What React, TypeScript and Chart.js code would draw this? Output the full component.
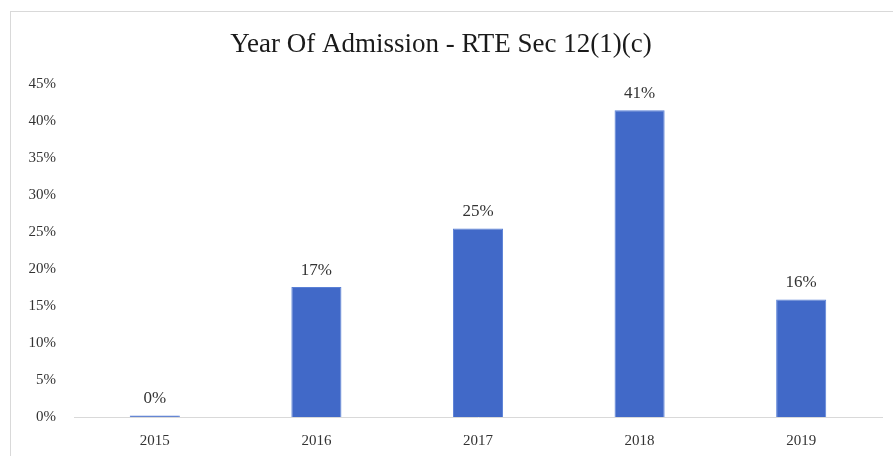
import React, { useEffect, useRef } from "react";
import { Chart, registerables } from "chart.js";

Chart.register(...registerables);

const categories = ["2015", "2016", "2017", "2018", "2019"];
const shares = [0.2, 17.6, 25.5, 41.5, 15.9];
const shareLabels = ["0%", "17%", "25%", "41%", "16%"];
const yTickMax = 45;
const yTickStep = 5;
const titleText = "Year Of Admission - RTE Sec 12(1)(c)";

const FONT = "'Liberation Serif', 'DejaVu Serif', serif";

const dataLabelPlugin = {
  id: "dataLabels",
  afterDatasetsDraw(chart: any) {
    const ctx = chart.ctx;
    const meta = chart.getDatasetMeta(0);
    ctx.save();
    ctx.font = `17px ${FONT}`;
    ctx.fillStyle = "#333333";
    ctx.textAlign = "center";
    ctx.textBaseline = "bottom";
    meta.data.forEach((bar: any, i: number) => {
      ctx.fillText(shareLabels[i], bar.x, bar.y - 8);
    });
    ctx.restore();
  },
};

export default function App() {
  const ref = useRef<HTMLCanvasElement | null>(null);
  useEffect(() => {
    if (!ref.current) return;
    const chart = new Chart(ref.current, {
      type: "bar",
      data: {
        labels: categories,
        datasets: [
          {
            data: shares,
            backgroundColor: "#4169C8",
            borderColor: "#5a80d6",
            borderWidth: 1,
            barPercentage: 0.62,
            categoryPercentage: 0.5,
          },
        ],
      },
      options: {
        animation: false,
        responsive: false,
        maintainAspectRatio: false,
        layout: { padding: { top: 0, right: 11, bottom: 0, left: 0 } },
        plugins: {
          legend: { display: false },
          tooltip: { enabled: false },
          title: {
            display: true,
            text: titleText,
            color: "#1a1a1a",
            font: { family: FONT, size: 27, weight: "normal" },
            padding: { top: 29, bottom: 23 },
          },
        },
        scales: {
          x: {
            grid: { display: false },
            border: { display: true, color: "#d9d9d9", width: 1 },
            ticks: {
              color: "#333333",
              font: { family: FONT, size: 15, weight: "normal" },
              padding: 7,
            },
            afterFit(scale: any) {
              scale.height = 39;
            },
          },
          y: {
            min: 0,
            max: yTickMax,
            grid: { display: false },
            border: { display: false },
            ticks: {
              stepSize: yTickStep,
              color: "#333333",
              padding: 10,
              font: { family: FONT, size: 15, weight: "normal" },
              callback: (v: any) => `${v}%`,
            },
            afterFit(scale: any) {
              scale.width = 74;
            },
          },
        },
      },
      plugins: [dataLabelPlugin],
    });
    return () => chart.destroy();
  }, []);

  return (
    <div style={{ position: "absolute", left: 0, top: 0, width: 893, height: 456, background: "#fff" }}>
      <div
        style={{
          position: "absolute",
          left: 10,
          top: 11,
          width: 900,
          height: 460,
          border: "1px solid #d9d9d9",
        }}
      />
      <canvas ref={ref} width={893} height={456} style={{ position: "absolute", left: 0, top: 0 }} />
    </div>
  );
}
